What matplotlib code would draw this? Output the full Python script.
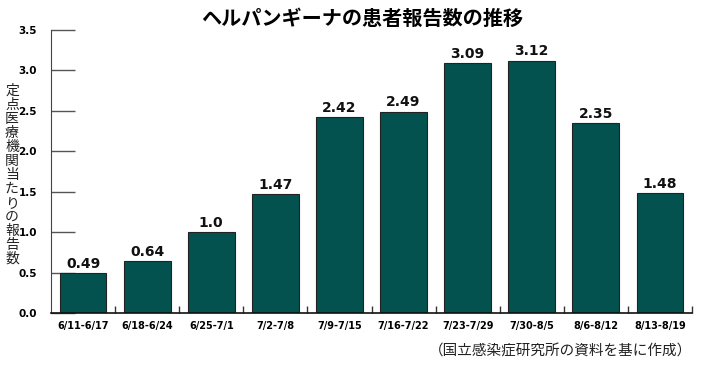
import numpy as np
import matplotlib; matplotlib.use("Agg")
import matplotlib.pyplot as plt

weeks = ["6/11-6/17", "6/18-6/24", "6/25-7/1", "7/2-7/8", "7/9-7/15",
         "7/16-7/22", "7/23-7/29", "7/30-8/5", "8/6-8/12", "8/13-8/19"]
values = [0.49, 0.64, 1.0, 1.47, 2.42, 2.49, 3.09, 3.12, 2.35, 1.48]
labels = ["0.49", "0.64", "1.0", "1.47", "2.42", "2.49", "3.09", "3.12", "2.35", "1.48"]
yticks = [0.0, 0.5, 1.0, 1.5, 2.0, 2.5, 3.0, 3.5]

title = "ヘルパンギーナの患者報告数の推移"
ylabel = "定点医療機関当たりの報告数"
source = "（国立感染症研究所の資料を基に作成）"

JP = ["Noto Sans CJK JP", "DejaVu Sans"]

fig = plt.figure(figsize=(7.05, 3.65), dpi=100)
ax = fig.add_axes([51/705, 1-313/365, (692-51)/705, (313-30)/365])

x = np.arange(len(weeks))
ax.bar(x, values, width=0.73, color="#03524f", edgecolor="#222222", linewidth=0.8, zorder=2)
for xi, v, s in zip(x, values, labels):
    ax.text(xi, v + 0.03, s, ha="center", va="bottom", fontsize=10, fontweight="bold", color="#111111")

ax.set_xlim(-0.5, len(weeks) - 0.5)
ax.set_ylim(0, 3.5)
ax.set_axisbelow(True)

ax.set_yticks(yticks)
ax.set_yticklabels([f"{t:.1f}" for t in yticks], fontsize=7.5, fontweight="bold")
ax.tick_params(axis="y", direction="in", length=17, width=1, color="#555555", pad=10)

ax.set_xticks(x)
ax.set_xticklabels(weeks, fontsize=7, fontweight="bold")
ax.tick_params(axis="x", which="major", length=0, pad=6)
ax.set_xticks(np.arange(0.5, len(weeks)), minor=True)
ax.tick_params(axis="x", which="minor", direction="in", length=5, width=1, color="#333333")

for s in ["top", "right"]:
    ax.spines[s].set_visible(False)
ax.spines["left"].set_color("#444444")
ax.spines["bottom"].set_color("#111111")
ax.spines["bottom"].set_linewidth(1.2)

fig.text(362/705, 1-18/365, title, ha="center", va="center", fontsize=14.5, fontweight="bold", family=JP)
fig.text(12/705, 1-175/365, "\n".join(ylabel), ha="center", va="center", fontsize=10,
         linespacing=1.0, family=JP, color="#222222")
fig.text(692/705, 1-352/365, source, ha="right", va="center", fontsize=10.5, family=JP, color="#222222")

fig.savefig("out.png", dpi=100)
